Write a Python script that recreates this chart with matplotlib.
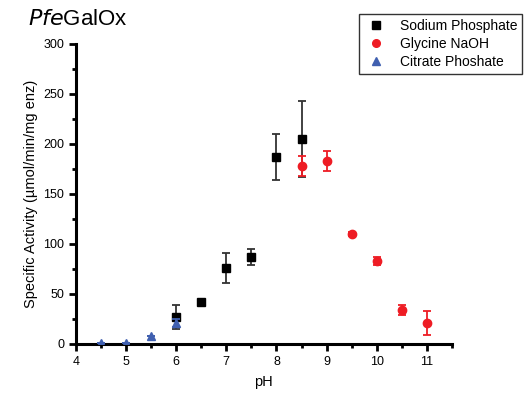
import matplotlib
matplotlib.use("Agg")
import matplotlib.pyplot as plt
from matplotlib.ticker import MultipleLocator
from matplotlib.lines import Line2D

sp_ph = [6.0, 6.5, 7.0, 7.5, 8.0, 8.5]
sp_val = [27, 42, 76, 87, 187, 205]
sp_err = [12, 0, 15, 8, 23, 38]

gn_ph = [8.5, 9.0, 9.5, 10.0, 10.5, 11.0]
gn_val = [178, 183, 110, 83, 34, 21]
gn_err = [10, 10, 2, 4, 5, 12]

cp_ph = [4.5, 5.0, 5.5, 6.0]
cp_val = [1, 1, 8, 21]
cp_err = [0, 0, 0, 4]

labels = ['Sodium Phosphate', 'Glycine NaOH', 'Citrate Phoshate']
colors = ['black', '#ee1c24', '#4060b0']
markers = ['s', 'o', '^']

plt.rcParams['font.family'] = ['Liberation Sans', 'DejaVu Sans']
fig = plt.figure(figsize=(5.31, 3.99), dpi=100)
ax = fig.add_axes([0.143, 0.138, 0.708, 0.752])

ax.errorbar(sp_ph, sp_val, yerr=sp_err, fmt=markers[0], color=colors[0], ecolor='#333333',
            markersize=5.5, capsize=3, elinewidth=1.3, capthick=1.3, zorder=3)
ax.errorbar(gn_ph, gn_val, yerr=gn_err, fmt=markers[1], color=colors[1], ecolor=colors[1],
            markersize=6, capsize=3, elinewidth=1.3, capthick=1.3, zorder=4)
ax.errorbar(cp_ph, cp_val, yerr=cp_err, fmt=markers[2], color=colors[2], ecolor=colors[2],
            markersize=6, capsize=3, elinewidth=1.3, capthick=1.3, zorder=5)

ax.set_xlim(4, 11.5)
ax.set_ylim(0, 300)
ax.xaxis.set_major_locator(MultipleLocator(1))
ax.xaxis.set_minor_locator(MultipleLocator(0.5))
ax.yaxis.set_major_locator(MultipleLocator(50))
ax.yaxis.set_minor_locator(MultipleLocator(25))
for s in ['top', 'right']:
    ax.spines[s].set_visible(False)
for s in ['left', 'bottom']:
    ax.spines[s].set_linewidth(2.2)
ax.tick_params(which='major', length=5, width=2, labelsize=9, direction='out')
ax.tick_params(which='minor', length=3, width=2)
ax.set_xlabel('pH', fontsize=10.5, labelpad=5)
ax.set_ylabel('Specific Activity (µmol/min/mg enz)', fontsize=10.5)

fig.text(0.053, 0.95, r'$\it{Pfe}$GalOx', fontsize=16, va='center', ha='left')

handles = [Line2D([], [], linestyle='none', marker=m, color=c, markersize=5.5)
           for m, c in zip(markers, colors)]
leg = fig.legend(handles, labels, loc='upper right', bbox_to_anchor=(0.997, 0.982), frameon=True,
                 fancybox=False, edgecolor='black', fontsize=10, handletextpad=0.8, borderpad=0.35,
                 labelspacing=0.3, handlelength=1.8)
leg.get_frame().set_linewidth(1.0)

fig.savefig('out.png', dpi=100)
